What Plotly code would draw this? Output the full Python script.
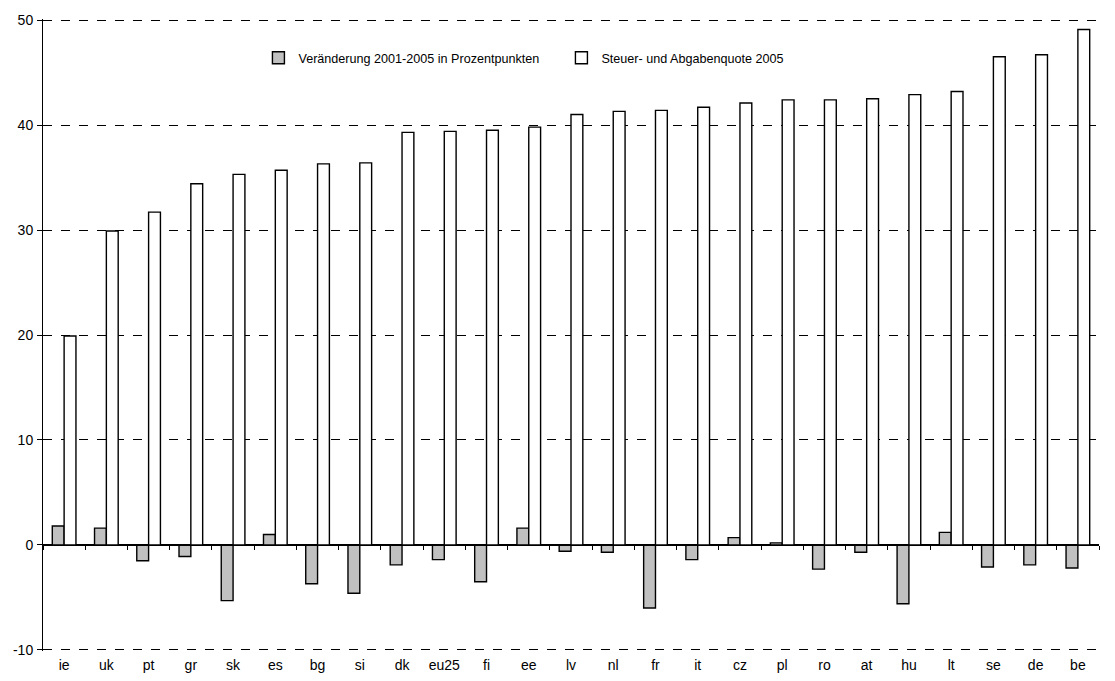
import plotly.graph_objects as go

countries = ["ie", "uk", "pt", "gr", "sk", "es", "bg", "si", "dk", "eu25", "fi", "ee", "lv",
             "nl", "fr", "it", "cz", "pl", "ro", "at", "hu", "lt", "se", "de", "be"]
change_2001_2005 = [1.8, 1.6, -1.5, -1.1, -5.3, 1.0, -3.7, -4.6, -1.9, -1.4, -3.5, 1.6, -0.6,
                    -0.7, -6.0, -1.4, 0.7, 0.2, -2.3, -0.7, -5.6, 1.2, -2.1, -1.9, -2.2]
quota_2005 = [19.9, 29.9, 31.7, 34.4, 35.3, 35.7, 36.3, 36.4, 39.3, 39.4, 39.5, 39.8, 41.0,
              41.3, 41.4, 41.7, 42.1, 42.4, 42.4, 42.5, 42.9, 43.2, 46.5, 46.7, 49.1]
name_change = "Veränderung 2001-2005 in Prozentpunkten"
name_quota = "Steuer- und Abgabenquote 2005"
y_ticks = [-10, 0, 10, 20, 30, 40, 50]
y_tick_text = [str(v) for v in y_ticks]

fig = go.Figure()
fig.add_trace(go.Bar(x=countries, y=change_2001_2005, name=name_change,
                     marker=dict(color="#c0c0c0", line=dict(color="black", width=1.4))))
fig.add_trace(go.Bar(x=countries, y=quota_2005, name=name_quota,
                     marker=dict(color="white", line=dict(color="black", width=1.4))))

family = "Liberation Sans, Arial, sans-serif"
tick_font = dict(family=family, size=14, color="black")
legend_font = dict(family=family, size=12.6, color="black")
fig.update_layout(
    width=1107, height=673,
    margin=dict(l=35, r=16, t=11, b=30, autoexpand=False),
    paper_bgcolor="white", plot_bgcolor="white",
    barmode="group", bargap=0.44, bargroupgap=0,
    font=tick_font,
    showlegend=True,
    legend=dict(orientation="h", x=0.204, y=0.962, xanchor="left", yanchor="top",
                font=legend_font, bgcolor="rgba(0,0,0,0)", entrywidth=258, itemwidth=30,
                tracegroupgap=0),
    xaxis=dict(type="category", showline=False, ticks="", showgrid=False, zeroline=False,
               tickfont=tick_font, ticklabelstandoff=4, automargin=False),
    xaxis2=dict(type="category", overlaying="x", matches="x", anchor="free", position=10.1 / 60.2,
                showline=True, linecolor="black", linewidth=1, ticks="outside",
                tickson="boundaries", ticklen=4, tickcolor="black", showticklabels=False,
                showgrid=False, zeroline=False, automargin=False),
    yaxis=dict(range=[-10.1, 50.1], tickvals=y_ticks, ticktext=y_tick_text, showgrid=True,
               gridcolor="black", griddash="dash", gridwidth=1, zeroline=True,
               zerolinecolor="black", zerolinewidth=1, showline=True, linecolor="black",
               linewidth=1, ticks="outside", ticklen=5, tickcolor="black", tickfont=tick_font,
               ticklabelstandoff=1, automargin=False),
)
fig.add_trace(go.Scatter(x=countries, y=[None] * len(countries), xaxis="x2",
                         showlegend=False, hoverinfo="skip", mode="lines"))
fig.write_html("out.html")
